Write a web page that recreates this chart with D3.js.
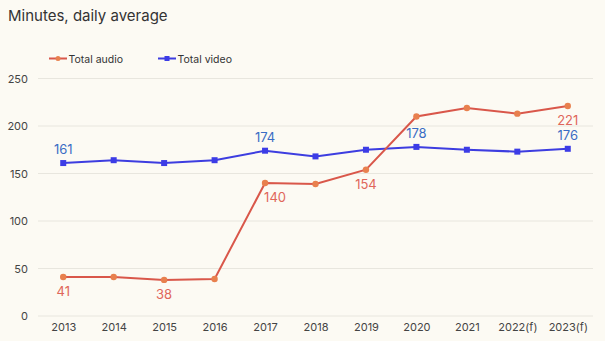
<!DOCTYPE html>
<html><head><meta charset="utf-8">
<script src="https://cdn.jsdelivr.net/npm/d3@7"></script>
<style>
html,body{margin:0;padding:0;background:#fcfaf3;}
svg{display:block;font-family:Inter,"Noto Sans",sans-serif;}
</style></head>
<body><svg id="c" width="605" height="341"></svg>
<script>
const years = ["2013","2014","2015","2016","2017","2018","2019","2020","2021","2022(f)","2023(f)"];
const audio = [41,41,38,39,140,139,154,210,219,213,221];
const video = [161,164,161,164,174,168,175,178,175,173,176];
const audioLabels = {"2013":41,"2015":38,"2017":140,"2019":154,"2023(f)":221};
const videoLabels = {"2013":161,"2017":174,"2020":178,"2023(f)":176};
const yTicks = [0,50,100,150,200,250];

const svg = d3.select("#c");
const W=605,H=341;
svg.append("rect").attr("width",W).attr("height",H).attr("fill","#fcfaf3");

const x = d3.scalePoint().domain(years).range([38,593]).padding(0.5);
const y = d3.scaleLinear().domain([0,250]).range([316,78.5]);

svg.append("text").attr("x",8).attr("y",21).attr("font-size",15).attr("fill","#333")
  .text("Minutes, daily average");

// grid
const g = svg.append("g");
g.selectAll("line.grid").data(yTicks).join("line")
  .attr("x1",38).attr("x2",593).attr("y1",d=>y(d)).attr("y2",d=>y(d))
  .attr("stroke","#e8e6de").attr("stroke-width",1);

const yAxis = svg.append("g").attr("transform","translate(38,0)")
  .call(d3.axisLeft(y).tickValues(yTicks).tickSize(0).tickPadding(10));
yAxis.select(".domain").remove();
yAxis.selectAll("text").attr("font-size",11).attr("fill","#444").attr("font-family","Inter,sans-serif");

const xAxis = svg.append("g").attr("transform","translate(0,316)")
  .call(d3.axisBottom(x).tickSize(0).tickPadding(7));
xAxis.select(".domain").remove();
xAxis.selectAll("text").attr("font-size",11).attr("fill","#444").attr("font-family","Inter,sans-serif");

const line = d3.line().x((d,i)=>x(years[i])).y(d=>y(d));
const audioLine="#d9574a", audioPt="#e8804e", audioTxt="#e0665a";
const videoLine="#3d3de0", videoPt="#3c3ce6", videoTxt="#3a6cc4";

svg.append("path").datum(video).attr("d",line).attr("fill","none").attr("stroke",videoLine).attr("stroke-width",2);
svg.selectAll("rect.vp").data(video).join("rect").attr("class","vp")
  .attr("x",(d,i)=>x(years[i])-3).attr("y",d=>y(d)-3).attr("width",6).attr("height",6).attr("fill",videoPt);

svg.append("path").datum(audio).attr("d",line).attr("fill","none").attr("stroke",audioLine).attr("stroke-width",2);
svg.selectAll("circle.ap").data(audio).join("circle").attr("class","ap")
  .attr("cx",(d,i)=>x(years[i])).attr("cy",d=>y(d)).attr("r",3.2).attr("fill",audioPt);

// labels
Object.entries(audioLabels).forEach(([k,v])=>{
  const dx = k==="2017"?10:0;
  svg.append("text").attr("x",x(k)+dx).attr("y",y(v)+19).attr("text-anchor","middle")
    .attr("font-size",13).attr("fill",audioTxt).text(v);
});
Object.entries(videoLabels).forEach(([k,v])=>{
  svg.append("text").attr("x",x(k)).attr("y",y(v)-9).attr("text-anchor","middle")
    .attr("font-size",13).attr("fill",videoTxt).text(v);
});

// legend
const leg = [{n:"Total audio",c:audioLine,p:audioPt,x:49,shape:"c"},{n:"Total video",c:videoLine,p:videoPt,x:158,shape:"s"}];
leg.forEach(l=>{
  svg.append("line").attr("x1",l.x).attr("x2",l.x+18).attr("y1",58.5).attr("y2",58.5).attr("stroke",l.c).attr("stroke-width",2);
  if(l.shape==="c") svg.append("circle").attr("cx",l.x+9).attr("cy",58.5).attr("r",2.5).attr("fill",l.p);
  else svg.append("rect").attr("x",l.x+6.5).attr("y",56).attr("width",5).attr("height",5).attr("fill",l.p);
  svg.append("text").attr("x",l.x+19.5).attr("y",62.5).attr("font-size",10.5).attr("fill","#333").text(l.n);
});
</script></body></html>
